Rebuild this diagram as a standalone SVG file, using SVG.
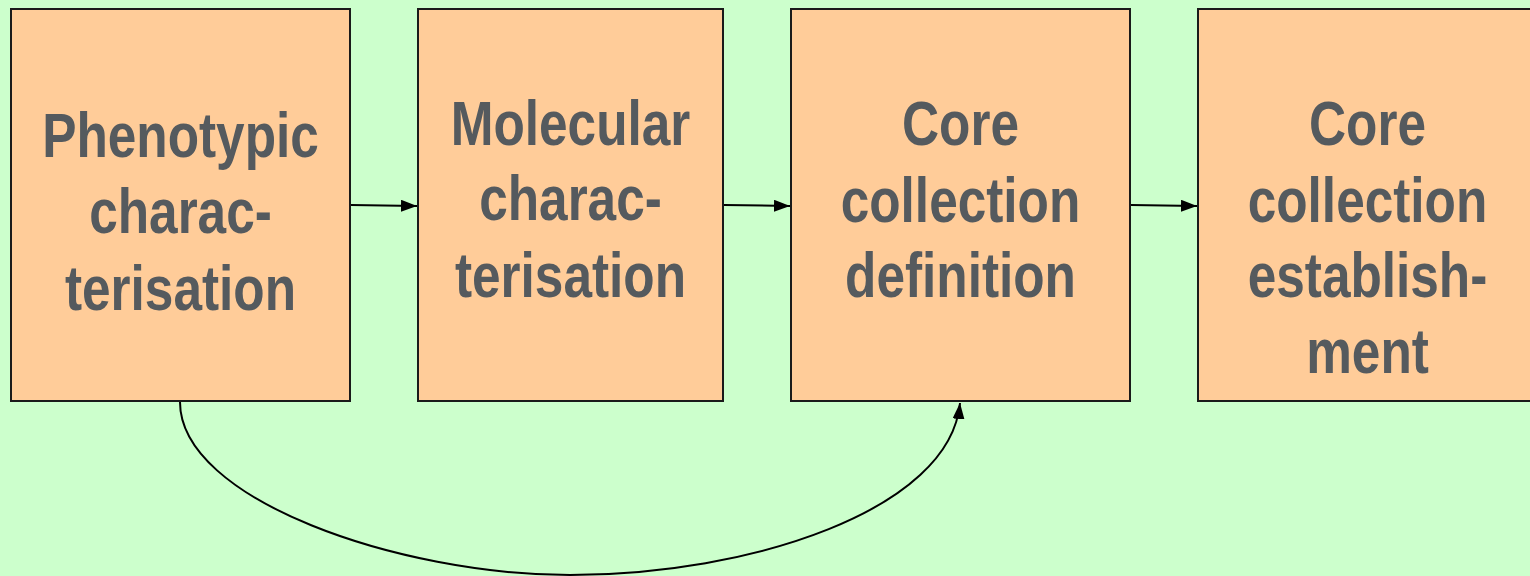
<svg xmlns="http://www.w3.org/2000/svg" width="1530" height="576" viewBox="0 0 1530 576">
<style>
.box{fill:#ffcc99;stroke:#1a1a1a;stroke-width:2}
.lbl{font-family:"Liberation Sans",Arial,sans-serif;font-weight:bold;font-size:63px;fill:#555a5e;text-anchor:middle}
.conn{fill:none;stroke:#000;stroke-width:2}
</style>
<defs>
<marker id="ah" viewBox="0 0 16 12" refX="16" refY="6" markerWidth="16" markerHeight="12" markerUnits="userSpaceOnUse" orient="auto">
<path d="M0,0 L16,6 L0,12 Z" fill="#000"/>
</marker>
</defs>
<rect width="1530" height="576" fill="#ccffcc"/>
<g id="node1">
<rect class="box" x="11" y="9" width="339" height="392"/>
<g transform="translate(180.5,0) scale(0.815,1)">
<text class="lbl" x="0" y="157">Phenotypic</text>
<text class="lbl" x="0" y="233">charac-</text>
<text class="lbl" x="0" y="310">terisation</text>
</g>
</g>
<g id="node2">
<rect class="box" x="418" y="9" width="305" height="392"/>
<g transform="translate(570.5,0) scale(0.815,1)">
<text class="lbl" x="0" y="145">Molecular</text>
<text class="lbl" x="0" y="220">charac-</text>
<text class="lbl" x="0" y="297">terisation</text>
</g>
</g>
<g id="node3">
<rect class="box" x="791" y="9" width="339" height="392"/>
<g transform="translate(960.5,0) scale(0.815,1)">
<text class="lbl" x="0" y="145">Core</text>
<text class="lbl" x="0" y="222">collection</text>
<text class="lbl" x="0" y="297">definition</text>
</g>
</g>
<g id="node4">
<rect class="box" x="1198" y="9" width="345" height="392"/>
<g transform="translate(1367.5,0) scale(0.815,1)">
<text class="lbl" x="0" y="145">Core</text>
<text class="lbl" x="0" y="222">collection</text>
<text class="lbl" x="0" y="297">establish-</text>
<text class="lbl" x="0" y="373">ment</text>
</g>
</g>
<g id="connectors">
<line class="conn" x1="351" y1="205" x2="417" y2="206" marker-end="url(#ah)"/>
<line class="conn" x1="724" y1="205" x2="790" y2="206" marker-end="url(#ah)"/>
<line class="conn" x1="1131" y1="205" x2="1197" y2="206" marker-end="url(#ah)"/>
<path class="conn" d="M180,402 C180,500 400,575 570,575 C750,575 950,510 960,403" marker-end="url(#ah)"/>
</g>
</svg>
